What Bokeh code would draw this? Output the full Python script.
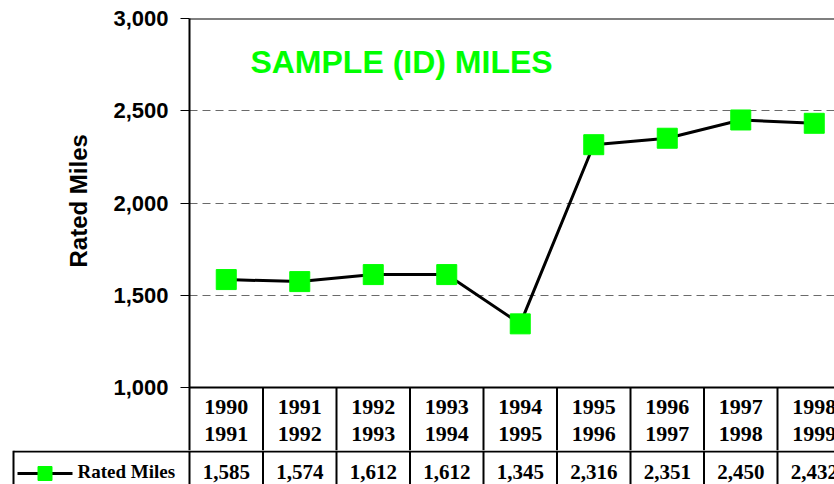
from bokeh.plotting import figure
from bokeh.models import Range1d, FixedTicker, NumeralTickFormatter, Label, Title
from bokeh.layouts import column
from bokeh.embed import file_html
from bokeh.resources import INLINE
from bokeh.core.properties import value

# ---- data ----
start_years = ["1990", "1991", "1992", "1993", "1994", "1995", "1996", "1997", "1998"]
end_years = ["1991", "1992", "1993", "1994", "1995", "1996", "1997", "1998", "1999"]
rated_miles = [1585, 1574, 1612, 1612, 1345, 2316, 2351, 2450, 2432]
y_ticks = [1000, 1500, 2000, 2500, 3000]
grid_ticks = [1500, 2000, 2500]
series_name = "Rated Miles"
title_text = "SAMPLE (ID) MILES"

GREEN = "#00FF00"
SANS = "Liberation Sans"
SERIF = "Liberation Serif"

idx = list(range(len(rated_miles)))
n = len(rated_miles)

# layout constants (pixels)
W = 834
TOP_H = 450          # main figure incl. header row of the table
BOT_H = 34           # value row of the table
LEFT = 189           # frame left
FRAME_TOP = 18
PLOT_PX = 369        # pixel height for 1000..3000
CAT_W = 73.5
X0_PIX = 225.75      # pixel centre of first category
x_end = (W - X0_PIX) / CAT_W
PX_PER_UNIT = PLOT_PX / 2000.0

def ypix_to_data(py):
    return 3000 - (py - FRAME_TOP) / PX_PER_UNIT

def px_to_x(px):
    return (px - X0_PIX) / CAT_W

y_bottom = ypix_to_data(TOP_H)

# ---------------- main chart ----------------
p1 = figure(width=W, height=TOP_H, output_backend="svg", toolbar_location=None,
            x_range=Range1d(-0.5, x_end), y_range=Range1d(y_bottom, 3000),
            x_axis_location=None, min_border_left=LEFT, min_border_top=FRAME_TOP,
            min_border_right=0, min_border_bottom=0)
p1.frame_align = False
p1.outline_line_color = None
p1.xgrid.visible = False
p1.ygrid.ticker = FixedTicker(ticks=grid_ticks)
p1.ygrid.grid_line_color = "#6a6a6a"
p1.ygrid.grid_line_dash = "8 5"
p1.ygrid.grid_line_width = 1

ax = p1.yaxis[0]
ax.ticker = FixedTicker(ticks=y_ticks)
ax.formatter = NumeralTickFormatter(format="0,0")
ax.axis_line_color = "black"
ax.axis_line_width = 2
ax.major_tick_out = 9
ax.major_tick_in = 0
ax.major_tick_line_color = "black"
ax.major_tick_line_width = 1
ax.minor_tick_line_color = None
ax.major_label_standoff = 12
ax.major_label_text_font = SANS
ax.major_label_text_font_style = "bold"
ax.major_label_text_font_size = "22px"
ax.major_label_text_color = "black"

# axis title, shifted up so it sits beside the 1000..3000 part of the axis
p1.add_layout(Title(text=series_name, align="left", offset=183, standoff=38,
                    text_color="black", text_font=SANS, text_font_style="bold",
                    text_font_size="24px"), "left")

# plot-area top border and table top line
p1.hspan(y=[3000], line_color="black", line_width=2)
p1.segment(x0=[-0.5], y0=[1000], x1=[x_end], y1=[1000], line_color="black", line_width=2)
# header-row vertical dividers
bounds = [i + 0.5 for i in range(n)]
p1.segment(x0=bounds, y0=[1000] * n, x1=bounds, y1=[y_bottom] * n,
           line_color="black", line_width=2)

p1.line(idx, rated_miles, line_color="black", line_width=3)
p1.scatter(idx, rated_miles, marker="square", size=20, fill_color=GREEN, line_color=GREEN)

p1.add_layout(Label(x=px_to_x(401), y=ypix_to_data(61), text=title_text,
                    text_align="center", text_baseline="middle", text_color=GREEN,
                    text_font=SANS, text_font_style="bold", text_font_size="32px"))

p1.text(idx, [ypix_to_data(406)] * n, text=start_years, text_align="center",
        text_baseline="middle", text_font=value(SERIF), text_font_style="bold",
        text_font_size="22px", text_color="black")
p1.text(idx, [ypix_to_data(433)] * n, text=end_years, text_align="center",
        text_baseline="middle", text_font=value(SERIF), text_font_style="bold",
        text_font_size="22px", text_color="black")

# ---------------- value row of the table ----------------
p2 = figure(width=W, height=BOT_H, output_backend="svg", toolbar_location=None,
            x_range=Range1d(-X0_PIX / CAT_W, x_end), y_range=Range1d(BOT_H, 0),
            x_axis_location=None, y_axis_location=None, min_border=0)
p2.frame_align = False
p2.outline_line_color = None
p2.grid.visible = False

legend_left = px_to_x(13)
vb = [i - 0.5 for i in range(n + 1)]

p2.segment(x0=[legend_left], y0=[1], x1=[x_end], y1=[1], line_color="black", line_width=2)
p2.segment(x0=vb, y0=[0] * len(vb), x1=vb, y1=[BOT_H] * len(vb),
           line_color="black", line_width=2)
p2.segment(x0=[legend_left], y0=[0], x1=[legend_left], y1=[BOT_H],
           line_color="black", line_width=2)

p2.text(idx, [21] * n, text=[f"{v:,}" for v in rated_miles], text_align="center",
        text_baseline="middle", text_font=value(SERIF), text_font_style="bold",
        text_font_size="21px", text_color="black")

# legend key
p2.segment(x0=[px_to_x(17)], y0=[23], x1=[px_to_x(72)], y1=[23], line_color="black", line_width=3)
p2.scatter([px_to_x(44.5)], [23], marker="square", size=14, fill_color=GREEN, line_color=GREEN)
p2.text([px_to_x(77)], [21], text=[series_name], text_align="left", text_baseline="middle",
        text_font=value(SERIF), text_font_style="bold", text_font_size="19px", text_color="black")

layout = column(p1, p2, spacing=0)
open("out.html", "w").write(file_html(layout, INLINE))
